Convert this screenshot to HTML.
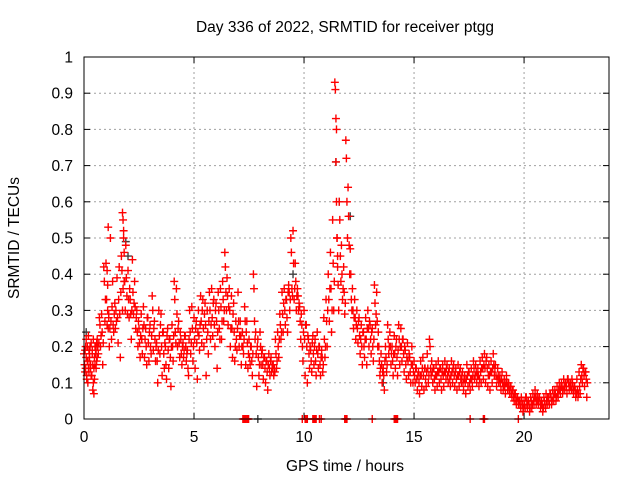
<!DOCTYPE html>
<html><head><meta charset="utf-8"><style>
html,body{margin:0;padding:0;background:#fff;}
svg{display:block;font-family:"Liberation Sans",sans-serif;}
</style></head><body>
<svg id="chart" width="640" height="480" viewBox="0 0 640 480">
<rect width="640" height="480" fill="#fff"/>
<text x="345" y="32" text-anchor="middle" font-size="15.5" fill="#000">Day 336 of 2022, SRMTID for receiver ptgg</text>
<text x="0" y="0" transform="translate(19,238) rotate(-90)" text-anchor="middle" font-size="15.5">SRMTID / TECUs</text>
<text x="345" y="471" text-anchor="middle" font-size="15.5">GPS time / hours</text>
<g id="grid"></g>
<g id="ticks"></g>
<g id="black"></g>
<g id="red"></g>
<rect x="84" y="57" width="525" height="362" fill="none" stroke="#000" stroke-width="1"/>
</svg>
<script>
const xTicks=[0,5,10,15,20];
const yTicks=[0,0.1,0.2,0.3,0.4,0.5,0.6,0.7,0.8,0.9,1];
const yTickLabels=["0","0.1","0.2","0.3","0.4","0.5","0.6","0.7","0.8","0.9","1"];
const redTimes=[0,0.05,0.1,0.15,0.2,0.25,0.3,0.35,0.4,0.45,0.5,0.55,0.6,0.7,0.8,0.9,1.0,1.05,1.1,1.2,1.3,1.4,1.5,1.6,1.7,1.75,1.8,1.9,2.0,2.1,2.2,2.3,2.4,2.5,2.6,2.7,2.8,2.9,3.0,3.1,3.2,3.3,3.4,3.5,3.6,3.7,3.8,3.9,4.0,4.1,4.2,4.3,4.4,4.5,4.6,4.7,4.8,4.9,5.0,5.1,5.2,5.3,5.4,5.5,5.6,5.7,5.8,5.9,6.0,6.1,6.2,6.3,6.4,6.5,6.6,6.7,6.8,6.9,7.0,7.1,7.2,7.3,7.4,7.5,7.6,7.7,7.8,7.9,8.0,8.1,8.2,8.3,8.4,8.5,8.6,8.7,8.8,8.9,9.0,9.1,9.2,9.3,9.4,9.5,9.6,9.7,9.8,9.9,10.0,10.1,10.2,10.3,10.4,10.5,10.6,10.7,10.8,10.9,11.0,11.1,11.2,11.3,11.4,11.45,11.5,11.6,11.7,11.8,11.9,12.0,12.1,12.2,12.3,12.4,12.5,12.6,12.7,12.8,12.9,13.0,13.1,13.2,13.3,13.4,13.5,13.6,13.7,13.8,13.9,14.0,14.1,14.2,14.3,14.4,14.5,14.6,14.7,14.8,14.9,15.0,15.1,15.2,15.3,15.4,15.5,15.6,15.7,15.8,15.9,16.0,16.1,16.2,16.3,16.4,16.5,16.6,16.7,16.8,16.9,17.0,17.1,17.2,17.3,17.4,17.5,17.6,17.7,17.8,17.9,18.0,18.1,18.2,18.3,18.4,18.5,18.6,18.7,18.8,18.9,19.0,19.1,19.2,19.3,19.4,19.5,19.6,19.7,19.8,19.9,20.0,20.1,20.2,20.3,20.4,20.5,20.6,20.7,20.8,20.9,21.0,21.1,21.2,21.3,21.4,21.5,21.6,21.7,21.8,21.9,22.0,22.1,22.2,22.3,22.4,22.5,22.6,22.7,22.8];
const redValues=[[.18,.15,.13,.2],[.19,.14,.17,.11],[.22,.12,.2,.16],[.16,.1,.14,.19],[.23,.13,.18,.15],[.17,.2,.14,.12],[.15,.21,.12,.18],[.12,.19,.15,.1],[.08,.22,.14,.17],[.07,.11,.15,.2],[.2,.18,.14,.16],[.19,.21,.17,.2],[.22,.2,.18,.21],[.28,.26,.2,.23],[.29,.24,.15,.21],[.42,.38,.27,.33],[.43,.33,.26,.3],[.41,.37,.25,.28],[.53,.29,.2,.25],[.5,.27,.22,.31],[.38,.26,.24,.29],[.32,.25,.3,.27],[.39,.28,.21,.33],[.42,.29,.17,.35],[.45,.41,.3,.36],[.57,.55,.52,.38],[.5,.46,.38,.3],[.48,.39,.34,.29],[.41,.33,.28,.36],[.33,.29,.22,.3],[.44,.35,.29,.32],[.38,.31,.25,.28],[.3,.24,.2,.27],[.25,.21,.17,.23],[.29,.22,.18,.25],[.31,.26,.17,.22],[.25,.2,.15,.28],[.28,.21,.16,.24],[.26,.2,.18,.23],[.34,.3,.19,.25],[.27,.22,.16,.2],[.21,.16,.1,.19],[.3,.23,.18,.26],[.29,.2,.12,.24],[.24,.18,.14,.21],[.2,.15,.11,.23],[.25,.19,.14,.22],[.22,.17,.09,.2],[.26,.2,.16,.23],[.38,.33,.24,.21],[.36,.29,.2,.25],[.27,.21,.17,.24],[.22,.18,.15,.2],[.21,.17,.19,.23],[.23,.2,.16,.18],[.19,.14,.12,.22],[.3,.24,.18,.21],[.31,.25,.16,.2],[.28,.22,.14,.25],[.27,.21,.11,.24],[.3,.23,.19,.26],[.34,.27,.21,.3],[.33,.25,.2,.29],[.32,.26,.12,.22],[.3,.24,.18,.27],[.35,.3,.22,.26],[.36,.28,.23,.32],[.33,.26,.2,.3],[.32,.27,.14,.24],[.35,.3,.25,.22],[.36,.31,.22,.27],[.38,.33,.27,.3],[.46,.42,.35,.3],[.39,.34,.26,.31],[.36,.3,.2,.25],[.34,.25,.17,.29],[.32,.24,.16,.2],[.27,.22,.19,.25],[.35,.27,.2,.23],[.27,.23,.15,.2],[.24,.2,.18,.22],[.31,.27,.15,.24],[.27,.21,.14,.18],[.22,.17,.15,.2],[.2,.16,.12,.18],[.4,.36,.27,.22],[.24,.18,.09,.2],[.22,.17,.12,.15],[.24,.2,.15,.18],[.19,.15,.11,.17],[.17,.14,.1,.16],[.16,.13,.08,.15],[.18,.14,.12,.16],[.17,.13,.15,.14],[.15,.12,.14,.13],[.22,.18,.14,.16],[.24,.2,.17,.22],[.29,.26,.22,.24],[.35,.29,.24,.32],[.36,.3,.26,.33],[.33,.28,.24,.35],[.37,.35,.3,.33],[.5,.46,.36,.34],[.52,.43,.33,.36],[.43,.38,.3,.34],[.36,.34,.3,.32],[.31,.27,.22,.29],[.26,.2,.16,.24],[.3,.22,.12,.26],[.26,.2,.1,.23],[.22,.18,.14,.2],[.19,.16,.13,.21],[.23,.18,.15,.2],[.22,.16,.12,.19],[.24,.18,.14,.2],[.2,.15,.12,.17],[.19,.17,.13,.15],[.28,.22,.17,.2],[.33,.27,.2,.3],[.4,.33,.27,.36],[.46,.36,.24,.3],[.55,.43,.3,.38],[.93,.91,.83,.8],[.71,.6,.5,.45],[.5,.42,.37,.3],[.6,.55,.45,.38],[.48,.4,.33,.36],[.42,.35,.29,.32],[.77,.72,.6,.5],[.64,.56,.48,.4],[.47,.4,.33,.3],[.36,.3,.25,.28],[.33,.28,.22,.26],[.3,.25,.21,.27],[.28,.23,.18,.22],[.26,.2,.15,.24],[.24,.2,.17,.22],[.28,.22,.15,.25],[.3,.25,.2,.27],[.26,.22,.18,.24],[.25,.2,.16,.22],[.37,.32,.26,.29],[.35,.27,.2,.24],[.2,.16,.12,.14],[.18,.15,.1,.13],[.14,.12,.08,.16],[.2,.17,.13,.15],[.26,.22,.18,.2],[.24,.2,.15,.18],[.2,.16,.12,.18],[.23,.18,.14,.2],[.22,.17,.12,.19],[.26,.22,.15,.2],[.25,.2,.16,.22],[.22,.18,.13,.2],[.19,.15,.11,.17],[.21,.16,.12,.18],[.17,.13,.1,.15],[.2,.15,.1,.13],[.16,.12,.1,.14],[.14,.11,.08,.12],[.13,.1,.07,.12],[.16,.12,.09,.14],[.17,.12,.08,.14],[.14,.11,.09,.13],[.18,.14,.1,.12],[.22,.2,.14,.12],[.16,.13,.1,.14],[.14,.11,.08,.12],[.15,.12,.09,.13],[.16,.13,.1,.14],[.14,.11,.08,.13],[.15,.12,.09,.13],[.16,.13,.11,.14],[.15,.12,.1,.13],[.14,.11,.09,.12],[.16,.13,.1,.14],[.15,.12,.09,.13],[.14,.11,.08,.12],[.15,.12,.09,.13],[.14,.11,.1,.12],[.13,.1,.08,.11],[.12,.1,.07,.11],[.15,.12,.09,.13],[.13,.1,.08,.11],[.14,.11,.09,.12],[.16,.14,.11,.12],[.15,.13,.1,.12],[.14,.12,.09,.11],[.16,.13,.1,.14],[.17,.14,.11,.15],[.18,.14,.1,.16],[.17,.14,.09,.12],[.15,.12,.08,.13],[.16,.13,.1,.14],[.18,.15,.12,.14],[.15,.12,.09,.11],[.14,.12,.1,.11],[.12,.1,.08,.11],[.13,.1,.08,.09],[.11,.09,.07,.1],[.12,.1,.08,.09],[.1,.08,.07,.09],[.09,.07,.06,.08],[.08,.06,.05,.07],[.07,.05,.04,.06],[.06,.05,.04,.05],[.05,.04,.03,.06],[.05,.04,.02,.03],[.05,.04,.03,.06],[.06,.04,.03,.05],[.05,.04,.02,.03],[.06,.05,.03,.04],[.07,.05,.04,.06],[.08,.06,.04,.05],[.07,.05,.04,.06],[.06,.05,.03,.04],[.05,.04,.02,.03],[.06,.05,.04,.03],[.07,.05,.04,.06],[.06,.05,.04,.07],[.07,.06,.04,.05],[.08,.06,.05,.07],[.08,.07,.05,.06],[.09,.07,.06,.08],[.1,.08,.07,.09],[.1,.09,.07,.08],[.11,.09,.08,.1],[.1,.09,.07,.11],[.11,.1,.08,.09],[.1,.09,.08,.11],[.1,.08,.07,.09],[.09,.08,.06,.07],[.11,.08,.06,.07],[.13,.09,.07,.11],[.15,.12,.1,.14],[.14,.12,.09,.13],[.13,.11,.06,.1]];
const zeroTimes=[7.22,7.27,7.32,7.35,7.4,7.45,7.48,9.92,10.05,10.1,10.15,10.4,10.45,10.5,10.55,10.7,10.78,11.85,11.9,11.95,13.1,14.1,14.15,14.2,14.25,17.55,18.15,18.2,19.74];
const blackTimes=[0.1,1.9,2.0,9.5,11.45,11.6,12.1,12.2,13.6,7.9];
const blackValues=[0.24,0.49,0.45,0.4,0.71,0.6,0.56,0.3,0.1,0];
const X0=84,X1=609,Y0=419,Y1=57,XMAX=23.86;
const xs=t=>X0+(X1-X0)*t/XMAX;
const ys=v=>Y0-(Y0-Y1)*v;
const NS="http://www.w3.org/2000/svg";
const grid=document.getElementById('grid'),ticks=document.getElementById('ticks');
function mk(tag,attrs,parent){const e=document.createElementNS(NS,tag);for(const k in attrs)e.setAttribute(k,attrs[k]);parent.appendChild(e);return e;}
xTicks.forEach(t=>{const x=xs(t);
 if(t>0){const g=mk('line',{x1:x,x2:x,y1:Y1,y2:Y0,stroke:'#a0a0a0','stroke-dasharray':'2,3'},grid);
 
 }
 mk('line',{x1:x,x2:x,y1:Y0,y2:Y0-6,stroke:'#000'},ticks);
 mk('line',{x1:x,x2:x,y1:Y1,y2:Y1+6,stroke:'#000'},ticks);
 const l=mk('text',{x:x,y:Y0+23,'text-anchor':'middle','font-size':'15.5'},ticks);l.textContent=String(t);
 
 });
yTicks.forEach((v,i)=>{const y=ys(v);
 if(v>0&&v<1){const g=mk('line',{x1:X0,x2:X1,y1:y,y2:y,stroke:'#a0a0a0','stroke-dasharray':'2,3'},grid);
 
 }
 mk('line',{x1:X0,x2:X0+6,y1:y,y2:y,stroke:'#000'},ticks);
 mk('line',{x1:X1,x2:X1-6,y1:y,y2:y,stroke:'#000'},ticks);
 const l=mk('text',{x:X0-11,y:y+5.5,'text-anchor':'end','font-size':'15.5'},ticks);l.textContent=yTickLabels[i];
 
 });
function plus(parent,t,v,col){const x=xs(t),y=ys(v);
 const p=mk('path',{d:`M${x-4},${y}h8M${x},${y-4}v8`,stroke:col,'stroke-width':'1.4',fill:'none'},parent);
 
 }
const blk=document.getElementById('black'),red=document.getElementById('red');
blackTimes.forEach((t,i)=>plus(blk,t,blackValues[i],'#404040'));
redTimes.forEach((t,i)=>{redValues[i].forEach((v,j)=>plus(red,t+j*0.025,v,'#ff0000'));});
zeroTimes.forEach(t=>plus(red,t,0,'#ff0000'));
</script>
</body></html>
